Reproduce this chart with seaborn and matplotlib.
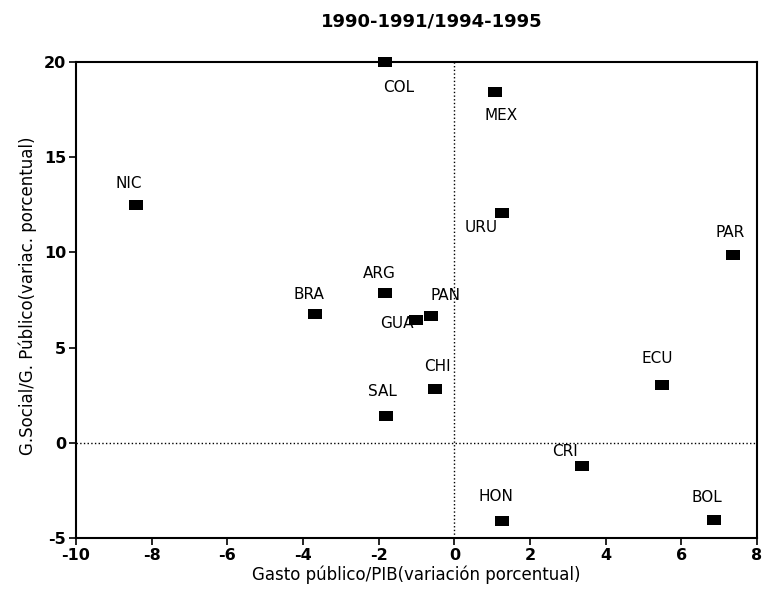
import matplotlib
matplotlib.use("Agg")
import matplotlib.pyplot as plt
import seaborn as sns
import pandas as pd

countries = ["COL", "MEX", "NIC", "URU", "PAR", "ARG", "BRA", "PAN", "GUA",
             "CHI", "SAL", "ECU", "CRI", "HON", "BOL"]
gasto_pib = [-1.83, 1.08, -8.41, 1.26, 7.36, -1.83, -3.68, -0.62, -1.01,
             -0.51, -1.81, 5.49, 3.38, 1.26, 6.87]
gsocial_gpub = [20.0, 18.4, 12.5, 12.08, 9.87, 7.88, 6.78, 6.67, 6.46,
                2.84, 1.42, 3.05, -1.21, -4.1, -4.04]
# label offsets in pixels (dx right, dy down)
label_dx = [14, 6, -7, -21, -3, -6, -6, 15, -19, 2, -3, -5, -17, -6, -7]
label_dy = [25, 23, -21, 15, -22, -19, -19, -20, 4, -22, -24, -26, -14, -24, -22]

df = pd.DataFrame({"pais": countries, "x": gasto_pib, "y": gsocial_gpub})

sns.set_style("white")
plt.rcParams["font.family"] = ["DejaVu Sans"]
plt.rcParams["axes.unicode_minus"] = False
plt.rcParams["text.color"] = "black"
plt.rcParams["axes.labelcolor"] = "black"
plt.rcParams["xtick.color"] = "black"
plt.rcParams["ytick.color"] = "black"

fig = plt.figure(figsize=(7.64, 5.93), dpi=100)
ax = fig.add_axes([76/764, 1-538/593, (757-76)/764, (538-62)/593])

rect = [(-1.5, -1), (1.5, -1), (1.5, 1), (-1.5, 1), (-1.5, -1)]
sns.scatterplot(data=df, x="x", y="y", ax=ax, marker=rect, s=115,
                color="black", edgecolor="black", linewidth=0, zorder=5,
                clip_on=False)

ax.axvline(0, color="black", linestyle=":", linewidth=1.0)
ax.axhline(0, color="black", linestyle=":", linewidth=1.0)

for name, xv, yv, dx, dy in zip(countries, gasto_pib, gsocial_gpub, label_dx, label_dy):
    ax.annotate(name, (xv, yv), xytext=(dx*0.72, -dy*0.72), textcoords="offset points",
                ha="center", va="center", fontsize=11, color="black")

ax.set_xlim(-10, 8)
ax.set_ylim(-5, 20)
ax.set_xticks(range(-10, 9, 2))
ax.set_yticks(range(-5, 21, 5))
ax.tick_params(axis="both", direction="out", length=5, width=1.2, labelsize=11.5,
               colors="black", bottom=True, left=True, pad=2)
for lbl in ax.get_xticklabels() + ax.get_yticklabels():
    lbl.set_fontweight("bold")
for sp in ax.spines.values():
    sp.set_color("black")
    sp.set_linewidth(1.5)

ax.set_xlabel("Gasto público/PIB(variación porcentual)", fontsize=12, labelpad=2,
              color="black")
ax.set_ylabel("G.Social/G. Público(variac. porcentual)", fontsize=12, color="black")
ax.yaxis.set_label_coords((37-76)/681, 0.508)

fig.text(432/764, 1-21.5/593, "1990-1991/1994-1995", ha="center", va="center",
         fontsize=13, fontweight="bold", color="black")

fig.savefig("out.png", dpi=100)
